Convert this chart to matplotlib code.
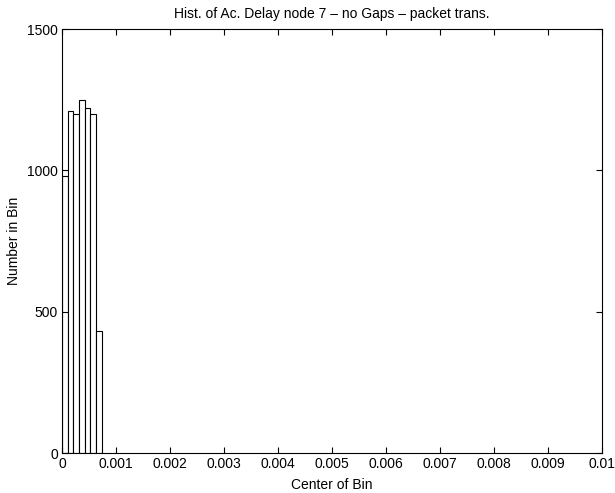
import matplotlib
matplotlib.use("Agg")
import matplotlib.pyplot as plt
import numpy as np

#Histogram data
bin_width = 0.000105
bin_centers = bin_width / 2 + bin_width * np.arange(7)
bin_counts = [980, 1210, 1200, 1250, 1220, 1200, 430]

x_ticks = [0, 0.001, 0.002, 0.003, 0.004, 0.005, 0.006, 0.007, 0.008, 0.009, 0.01]
x_tick_labels = ["0", "0.001", "0.002", "0.003", "0.004", "0.005", "0.006", "0.007", "0.008", "0.009", "0.01"]
y_ticks = [0, 500, 1000, 1500]

plt.rcParams['font.family'] = ['Liberation Sans', 'DejaVu Sans']
plt.rcParams['font.size'] = 10

fig = plt.figure(figsize=(6.15, 4.93), dpi=100)
ax = fig.add_axes([0.1008, 0.0811, 0.878, 0.86])

ax.bar(bin_centers, bin_counts, width=bin_width, facecolor="white", edgecolor="black", linewidth=0.8)

ax.set_xlim(0, 0.01)
ax.set_ylim(0, 1500)
ax.set_xticks(x_ticks)
ax.set_xticklabels(x_tick_labels)
ax.set_yticks(y_ticks)
ax.tick_params(direction="in", top=True, right=True, length=4, width=0.8, pad=3, labelsize=10)
for spine in ax.spines.values():
    spine.set_linewidth(0.8)

ax.set_title("Hist. of Ac. Delay node 7 \u2013 no Gaps \u2013 packet trans.", fontsize=10, pad=8)
ax.set_xlabel("Center of Bin", fontsize=10, labelpad=5)
ax.set_ylabel("Number in Bin", fontsize=10, labelpad=4)

fig.savefig("out.png", dpi=100)
